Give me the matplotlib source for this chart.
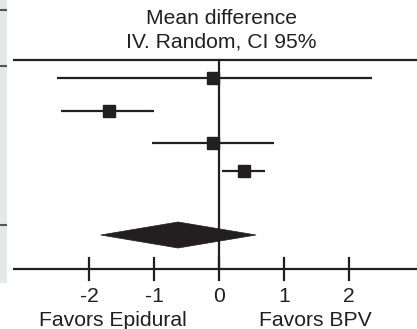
import matplotlib
matplotlib.use("Agg")
import matplotlib.pyplot as plt
import matplotlib.transforms as mtransforms
from matplotlib.patches import Rectangle, Polygon

plt.rcParams['font.family'] = ['Liberation Sans', 'DejaVu Sans']

# Data (mean difference, 95% CI)
means = [-0.09, -1.70, -0.10, 0.38]
ci_low = [-2.49, -2.43, -1.03, 0.05]
ci_high = [2.35, -1.00, 0.84, 0.71]
pooled_mean = -0.63
pooled_low = -1.82
pooled_high = 0.57
tick_values = [-2, -1, 0, 1, 2]
tick_labels = ['-2', '-1', '0', '1', '2']
title_lines = ["Mean difference", "IV. Random, CI 95%"]
left_label = "Favors Epidural"
right_label = "Favors BPV"

# Layout (vertical positions in pixel-like units, top = 0)
row_y = [77.7, 110.7, 143.3, 170.7]
pooled_y = 235
pooled_half_h = 13
top_line_y = 60
axis_y = 269
W, H = 417, 329
px_per_unit = 65.0
zero_px = 219.0
fs = 15.2

fig = plt.figure(figsize=(W / 100, H / 100), dpi=100)
ax = fig.add_axes([0, 0, 1, 1])
ax.set_xlim(-zero_px / px_per_unit, (W - zero_px) / px_per_unit)
ax.set_ylim(H, 0)
ax.axis('off')

col = '#231f20'
lw = 1.6
blend = mtransforms.blended_transform_factory(ax.transAxes, ax.transData)

# grey table remnant at left edge
ax.add_patch(Rectangle((0, 0), 6.5 / W, 283, transform=blend,
                       facecolor='#e6e7e8', edgecolor='none', zorder=0))
for yy in [10, 66, 225]:
    ax.plot([0, 6.5 / W], [yy, yy], transform=blend, color='#555555', lw=1.5,
            solid_capstyle='butt', zorder=1)

# top line and axis line
x0 = 13 / W
ax.plot([x0, 1], [top_line_y, top_line_y], transform=blend, color=col, lw=lw,
        solid_capstyle='butt')
ax.plot([x0, 1], [axis_y, axis_y], transform=blend, color=col, lw=lw,
        solid_capstyle='butt')

# zero line
ax.plot([0, 0], [top_line_y, axis_y], color=col, lw=lw)

# ticks
for v, lab in zip(tick_values, tick_labels):
    ax.plot([v, v], [axis_y - 11, axis_y + 11], color=col, lw=lw)
    ax.text(v, 297, lab, ha='center', va='center', fontsize=fs, color=col)

# studies
for m, lo, hi, y in zip(means, ci_low, ci_high, row_y):
    ax.plot([lo, hi], [y, y], color=col, lw=lw, solid_capstyle='butt')
    ax.plot([m], [y], marker='s', markersize=8.5, color=col, mec=col, lw=0)

# pooled diamond
ax.add_patch(Polygon([[pooled_low, pooled_y], [pooled_mean, pooled_y - pooled_half_h],
                      [pooled_high, pooled_y], [pooled_mean, pooled_y + pooled_half_h]],
                     closed=True, facecolor=col, edgecolor=col, lw=0.5, zorder=3))

# titles
ax.text(221 / W, 19, title_lines[0], transform=blend, ha='center', va='center',
        fontsize=fs, color=col)
ax.text(221 / W, 42, title_lines[1], transform=blend, ha='center', va='center',
        fontsize=fs, color=col)
ax.text(113 / W, 321, left_label, transform=blend, ha='center', va='center',
        fontsize=fs, color=col)
ax.text(315 / W, 321, right_label, transform=blend, ha='center', va='center',
        fontsize=fs, color=col)

fig.savefig('out.png', dpi=100)
